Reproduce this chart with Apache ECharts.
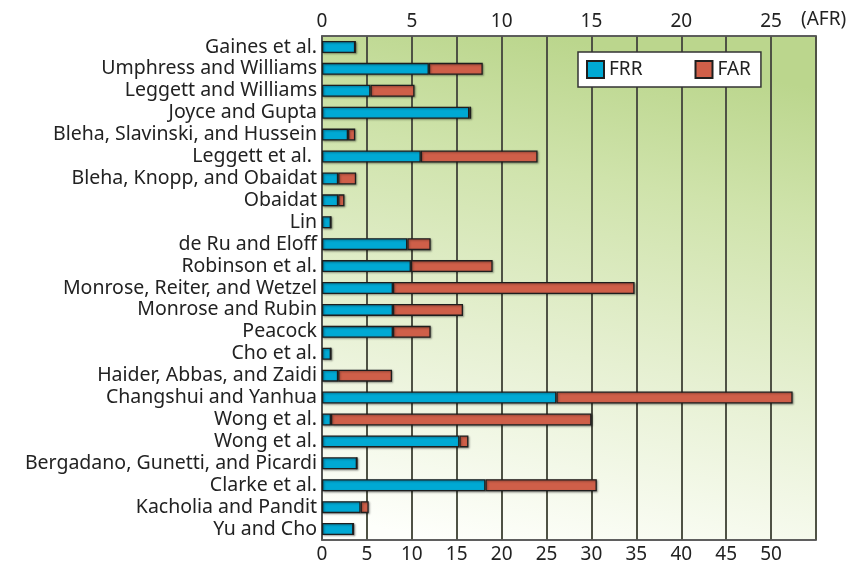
<!DOCTYPE html>
<html>
<head>
<meta charset="utf-8">
<script src="https://cdn.jsdelivr.net/npm/echarts@6/dist/echarts.min.js"></script>
<style>
  html, body { margin: 0; padding: 0; background: #fff; }
  #chart { width: 863px; height: 566px; }
</style>
</head>
<body>
<div id="chart"></div>
<script>
// studies, top to bottom
var studies = [
  'Gaines et al.', 'Umphress and Williams', 'Leggett and Williams', 'Joyce and Gupta',
  'Bleha, Slavinski, and Hussein', 'Leggett et al. ', 'Bleha, Knopp, and Obaidat', 'Obaidat',
  'Lin', 'de Ru and Eloff', 'Robinson et al.', 'Monrose, Reiter, and Wetzel',
  'Monrose and Rubin', 'Peacock', 'Cho et al.', 'Haider, Abbas, and Zaidi',
  'Changshui and Yanhua', 'Wong et al.', 'Wong et al.', 'Bergadano, Gunetti, and Picardi',
  'Clarke et al.', 'Kacholia and Pandit', 'Yu and Cho'
];
// false rejection rate (blue part)
var frr = [3.7, 11.9, 5.4, 16.4, 2.9, 11.0, 1.8, 1.8, 1.0, 9.5, 9.9, 7.9,
           7.9, 7.9, 1.0, 1.8, 26.1, 1.0, 15.3, 3.9, 18.2, 4.3, 3.5];
// false acceptance rate (red part, stacked on frr)
var far = [0, 6.0, 4.9, 0.2, 0.8, 13.0, 2.0, 0.7, 0, 2.6, 9.1, 26.9,
           7.8, 4.2, 0, 6.0, 26.3, 29.0, 1.0, 0, 12.4, 0.9, 0];

var blue = '#00a9d4';
var red = '#cf5f49';

var chart = echarts.init(document.getElementById('chart'));

var barStyle = function (c) {
  return {
    color: c,
    borderColor: '#1e1e1e',
    borderWidth: 1.3,
    shadowColor: 'rgba(0,0,0,0.35)',
    shadowBlur: 2,
    shadowOffsetX: 1,
    shadowOffsetY: 1
  };
};

chart.setOption({
  animation: false,
  textStyle: { fontFamily: 'Noto Sans' },
  grid: {
    left: 322, right: 47, top: 36, bottom: 26,
    show: true,
    borderColor: '#555',
    borderWidth: 1.5,
    backgroundColor: {
      type: 'linear', x: 0.25, y: 1, x2: 0.45, y2: 0,
      colorStops: [
        { offset: 0, color: '#fefffb' },
        { offset: 0.4, color: '#e6f0d2' },
        { offset: 0.75, color: '#cfe3ab' },
        { offset: 1, color: '#bbd68d' }
      ]
    }
  },
  legend: {
    left: 578, top: 52,
    orient: 'horizontal',
    backgroundColor: '#fff',
    borderColor: '#333',
    borderWidth: 1.5,
    padding: [8, 10, 8, 8],
    itemGap: 52,
    itemWidth: 17,
    itemHeight: 17,
    icon: 'rect',
    textStyle: { fontSize: 19, color: '#222', fontFamily: 'Noto Sans' },
    data: ['FRR', 'FAR']
  },
  xAxis: [
    {
      type: 'value',
      position: 'bottom',
      min: 0, max: 55, interval: 5,
      axisLine: { show: true, lineStyle: { color: '#555', width: 1.5 } },
      axisTick: { show: false },
      axisLabel: {
        fontSize: 19, color: '#222', margin: 5, showMaxLabel: false
      },
      splitLine: { show: true, lineStyle: { color: '#4f5245', width: 2 } }
    },
    {
      type: 'value',
      position: 'top',
      min: 0, max: 27.5, interval: 5,
      name: '(AFR)',
      nameLocation: 'end',
      nameGap: -15,
      nameTextStyle: {
        fontSize: 19, color: '#222', verticalAlign: 'bottom', padding: [0, 0, 7, 0]
      },
      axisLine: { show: true, lineStyle: { color: '#555', width: 1.5 } },
      axisTick: { show: false },
      axisLabel: {
        fontSize: 19, color: '#222', margin: 5,
        formatter: function (v) { return v % 5 === 0 ? String(v) : ''; }
      },
      splitLine: { show: false }
    }
  ],
  yAxis: {
    type: 'category',
    inverse: true,
    data: studies,
    axisLine: { show: true, lineStyle: { color: '#555', width: 1.5 } },
    axisTick: { show: false },
    axisLabel: { fontSize: 19.5, color: '#222', margin: 5, interval: 0 }
  },
  series: [
    {
      name: 'FRR', type: 'bar', stack: 'rate', xAxisIndex: 0,
      barWidth: 12,
      itemStyle: barStyle(blue),
      data: frr
    },
    {
      name: 'FAR', type: 'bar', stack: 'rate', xAxisIndex: 0,
      barWidth: 12,
      itemStyle: barStyle(red),
      data: far
    }
  ]
});
</script>
</body>
</html>
